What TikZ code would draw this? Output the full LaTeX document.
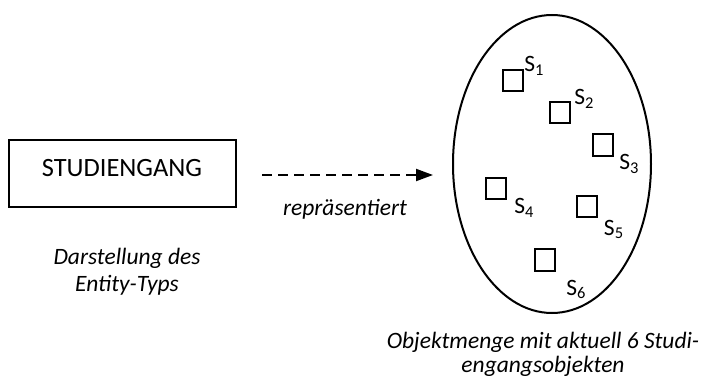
\documentclass[tikz,border=0pt]{standalone}
\usepackage{fontspec}
\setmainfont{Carlito}
\usetikzlibrary{arrows.meta}

\tikzset{
  kasten/.style={draw, line width=1.5pt, minimum width=170pt, minimum height=50pt, inner sep=0pt},
  objekt/.style={draw, line width=1.5pt, minimum width=15pt, minimum height=16pt, inner sep=0pt},
  beschr/.style={inner sep=0.75pt, font=\fontsize{17.6}{20.5}\selectfont},
}

\begin{document}
\begin{tikzpicture}[x=0.75pt,y=0.75pt,yscale=-1,xscale=1]
    \path [use as bounding box] (0,0) rectangle (708,385);

    %Shape: Rectangle [id:typ]
    \draw (122.5,173.5) node [kasten] (typ) {};
    %Shape: Ellipse [id:menge]
    \draw [line width=1.5] (552,164) ellipse [x radius=74.25pt, y radius=111.75pt];

    %Shape: Squares (objects)
    \draw (513.3,80.8) node [objekt] (s1) {};
    \draw (560,112.8) node [objekt] (s2) {};
    \draw (603.3,145) node [objekt] (s3) {};
    \draw (496,188.3) node [objekt] (s4) {};
    \draw (586.7,206.3) node [objekt] (s5) {};
    \draw (545.3,260) node [objekt] (s6) {};

    %Straight Lines [id:pfeil]
    \coordinate (pfeilStart) at (262,175);
    \coordinate (pfeilEnde) at (433,175);
    \draw [line width=1.5, dash pattern=on 7.5pt off 4.5pt, -{Triangle[length=12.75pt,width=9pt]}] (pfeilStart) -- (pfeilEnde);

    % Text Node
    \draw (122,176) node [beschr, anchor=base, font=\fontsize{19.8}{22.5}\selectfont] (typText) {STUDIENGANG};
    % Text Node
    \draw (345,215) node [beschr, anchor=base] (repText) {\itshape repräsentiert};
    % Text Node
    \draw (127,291.7) node [beschr, anchor=base, align=center] (typDesc) {\itshape Darstellung des\\\itshape Entity-Typs};
    % Text Node
    \draw (543,372) node [beschr, anchor=base, align=center, font=\fontsize{17.6}{18}\selectfont] (mengeDesc) {\itshape Objektmenge mit aktuell 6 Studi-\\\itshape engangsobjekten};

    % Text Node
    \draw (523,71.7) node [beschr, anchor=base west] (l1) {S\textsubscript{1}};
    % Text Node
    \draw (573,105) node [beschr, anchor=base west] (l2) {S\textsubscript{2}};
    % Text Node
    \draw (618,170) node [beschr, anchor=base west] (l3) {S\textsubscript{3}};
    % Text Node
    \draw (513,214) node [beschr, anchor=base west] (l4) {S\textsubscript{4}};
    % Text Node
    \draw (602.7,235) node [beschr, anchor=base west] (l5) {S\textsubscript{5}};
    % Text Node
    \draw (565,295) node [beschr, anchor=base west] (l6) {S\textsubscript{6}};

\end{tikzpicture}
\end{document}
